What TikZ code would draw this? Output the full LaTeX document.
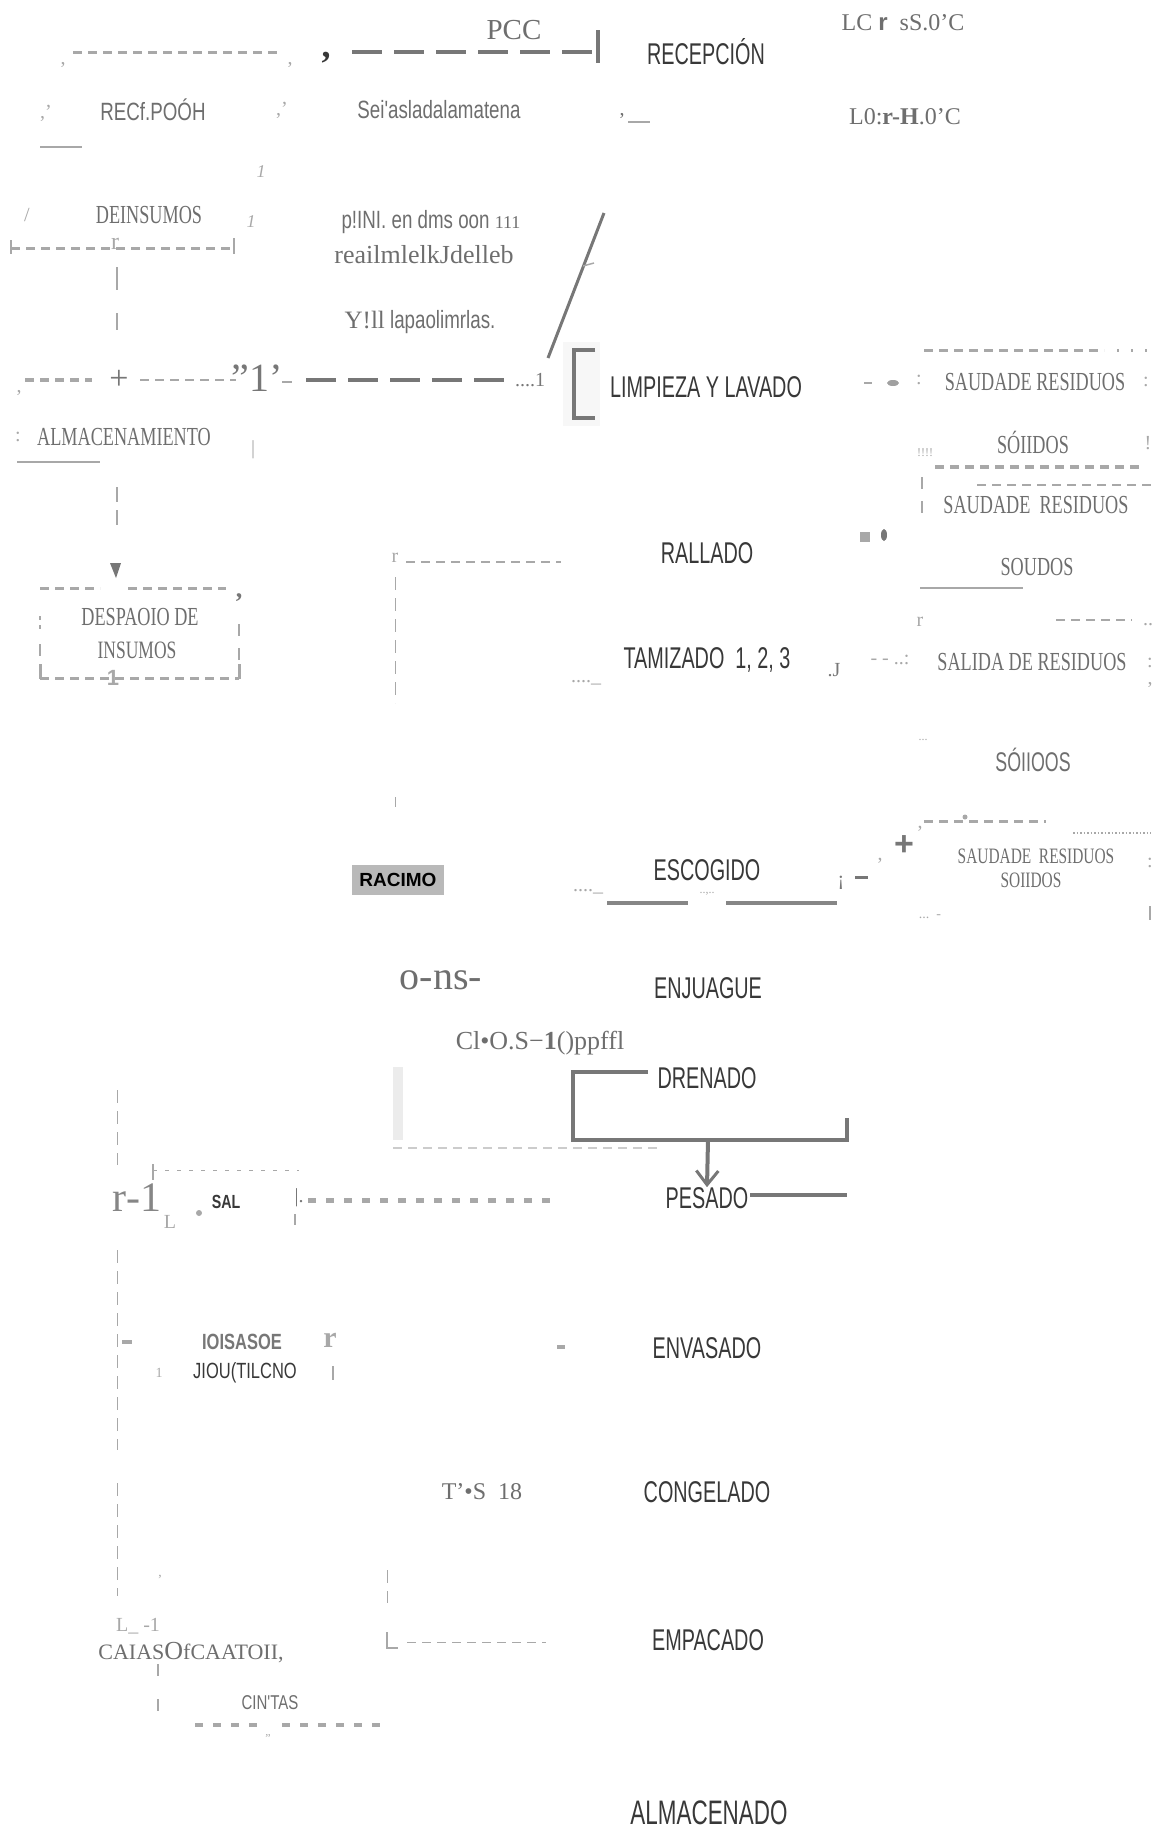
\documentclass[tikz,border=0pt]{standalone}
\usepackage{fontspec}
\setmainfont{Liberation Serif}
\setsansfont{Liberation Sans}
\newfontfamily\stepfont[FakeStretch=0.66]{Liberation Sans}
\newfontfamily\narrowsans[FakeStretch=0.75]{Liberation Sans}
\newfontfamily\narrowserif[FakeStretch=0.7]{Liberation Serif}
\usetikzlibrary{arrows.meta}

\definecolor{stepgray}{HTML}{383838}
\definecolor{notegray}{HTML}{6E6E6E}
\definecolor{linegray}{HTML}{A8A8A8}
\definecolor{darkline}{HTML}{777777}

\tikzset{
  stepnode/.style={inner sep=0pt, text=stepgray, font=\stepfont\fontsize{30}{30}\selectfont},
  capnote/.style={inner sep=0pt, text=notegray, font=\narrowserif\fontsize{26}{26}\selectfont},
  sidenote/.style={inner sep=0pt, text=notegray, font=\narrowsans\fontsize{25}{25}\selectfont},
  serifnote/.style={inner sep=0pt, text=notegray, font=\fontsize{26}{26}\selectfont},
  frag/.style={inner sep=0pt, text=linegray, font=\fontsize{20}{20}\selectfont},
  dashline/.style={draw=linegray, line width=3pt, dash pattern=on 9pt off 6pt},
  squaredash/.style={draw=linegray, line width=5pt, dash pattern=on 8pt off 10pt},
  longdash/.style={draw=darkline, line width=4pt, dash pattern=on 30pt off 12pt},
  tickline/.style={draw=linegray, line width=0.8pt, dash pattern=on 13pt off 8pt},
  thinline/.style={draw=linegray, line width=1.5pt},
  flowline/.style={draw=darkline, line width=4pt},
}

\begin{document}
\begin{tikzpicture}[x=1pt, y=-1pt]
  \useasboundingbox (0,0) rectangle (1152,1832);

  % process steps
  \node[stepnode] (rec) at (706,52) {RECEPCIÓN};
  \node[stepnode] (lim) at (706,387) {LIMPIEZA Y LAVADO};
  \node[stepnode] (ral) at (707,553) {RALLADO};
  \node[stepnode] (tam) at (707,660) {TAMIZADO\ \ 1, 2, 3};
  \node[stepnode] (esc) at (707,870) {ESCOGIDO};
  \node[stepnode] (enj) at (708,988) {ENJUAGUE};
  \node[stepnode] (dre) at (707,1078) {DRENADO};
  \node[stepnode] (pes) at (707,1198) {PESADO};
  \node[stepnode] (env) at (707,1348) {ENVASADO};
  \node[stepnode] (con) at (707,1492) {CONGELADO};
  \node[stepnode] (emp) at (708,1640) {EMPACADO};
  \node[stepnode, font=\stepfont\fontsize{34}{34}\selectfont] (alm) at (709,1813) {ALMACENADO};

  % top left
  \node[serifnote, font=\fontsize{29}{29}\selectfont] (pcc) at (514,30) {PCC};
  \draw[dashline] (73,52) -- (280,52);
  \node[frag] (c1) at (63,65) {,};
  \node[frag] (c2) at (290,65) {,};
  \node[text=stepgray, inner sep=0pt, font=\bfseries\fontsize{36}{36}\selectfont] (c3) at (326,58) {,};
  \draw[longdash] (352,52) -- (592,52);
  \draw[flowline] (598,30) -- (598,63);
  \node[sidenote] (recf) at (153,110) {RECf.POÓH};
  \node[frag] (c4) at (46,113) {,'};
  \node[frag] (c5) at (282,110) {,'};
  \node[sidenote] (sei) at (439,110) {Sei'asladalamatena};
  \draw[thinline] (40,147) -- (82,147);
  \node[frag, font=\itshape\fontsize{18}{18}\selectfont] (i1) at (261,172) {1};
  \node[frag, font=\itshape\fontsize{18}{18}\selectfont] (i2) at (251,222) {1};
  \node[frag] (sl) at (27,215) {/};
  \node[capnote] (deins) at (149,215) {DEINSUMOS};
  \draw[dashline] (11,248) -- (234,248);
  \draw[thinline] (11,240) -- (11,254) (234,238) -- (234,254);
  \node[frag, font=\fontsize{24}{24}\selectfont] (r1) at (115,244) {r};
  \node[sidenote] (pini) at (431,222) {p!INI.\ en dms oon {\rmfamily\fontsize{18}{18}\selectfont 111}};
  \node[serifnote] (reai) at (424,255) {reailmlelkJdelleb};
  \node[sidenote] (yll) at (420,322) {{\rmfamily Y!ll} lapaolimrlas.};

  % right of recepcion
  \node[serifnote, font=\fontsize{24}{24}\selectfont] (lc) at (903,23) {LC {\sffamily\bfseries r}\ \ sS.0'C};
  \node[serifnote, font=\fontsize{24}{24}\selectfont] (lo) at (905,117) {L0:{\bfseries r-H}.0'C};
  \node[frag, text=notegray] (c6) at (622,116) {,};
  \draw[thinline] (628,122) -- (650,122);

  % slash and row to limpieza
  \draw[draw=darkline, line width=3pt] (548,358) -- (604,213);
  \draw[thinline] (583,266) -- (594,263);
  \node[frag] (c7) at (19,393) {,};
  \draw[dashline, line width=4pt] (25,380) -- (92,380);
  \node[text=darkline, inner sep=0pt, font=\fontsize{34}{34}\selectfont] (pl) at (119,380) {+};
  \draw[dashline, line width=2pt] (140,380) -- (236,380);
  \node[text=darkline, inner sep=0pt, font=\fontsize{40}{40}\selectfont] (q1) at (257,378) {"1'};
  \draw[thinline, line width=2pt] (282,382) -- (292,382);
  \draw[longdash] (306,380) -- (510,380);
  \node[frag, text=darkline] (q2) at (530,380) {....1};
  \fill[gray!6] (563,342) rectangle (600,426);
  \draw[flowline] (595,350) -- (574,350) -- (574,418) -- (595,418);

  % almacenamiento and despacho
  \node[capnote] (almi) at (124,437) {ALMACENAMIENTO};
  \node[frag] (c8) at (18,437) {:};
  \draw[thinline] (17,462) -- (100,462);
  \node[frag] (c9) at (253,450) {|};
  \coordinate (ticktop) at (117,267);
  \coordinate (tickmid) at (117,487);
  \draw[thinline, line width=1.2pt] (ticktop) -- ++(0,23) ++(0,23) -- ++(0,17);
  \draw[thinline, line width=1.2pt] (tickmid) -- ++(0,15) ++(0,8) -- ++(0,15);
  \fill[darkline] (110,563) -- (121,563) -- (116,578) -- cycle;
  \draw[dashline] (40,588) -- (100,588) (128,588) -- (226,588);
  \node[capnote] (desp1) at (140,617) {DESPAOIO DE};
  \node[capnote, font=\narrowserif\fontsize{25}{25}\selectfont] (desp2) at (137,650) {INSUMOS};
  \draw[dashline] (40,678) -- (239,678);
  \draw[thinline, line width=3pt] (40,664) -- (40,679) (239,664) -- (239,679);
  \node[text=linegray, inner sep=0pt, font=\sffamily\bfseries\fontsize{22}{22}\selectfont] (one) at (113,678) {1};
  \draw[thinline] (40,616) -- (40,620) (40,625) -- (40,629) (40,644) -- (40,656);
  \draw[thinline] (239,624) -- (239,636) (239,648) -- (239,660);
  \node[text=darkline, inner sep=0pt, font=\bfseries\fontsize{26}{26}\selectfont] (c10) at (239,598) {,};

  % bracket left of rallado
  \node[frag] (r2) at (395,558) {r};
  \draw[dashline, line width=2pt] (406,562) -- (561,562);
  \draw[tickline] (395,577) -- (395,703) (395,797) -- (395,807);
  \node[frag] (d1) at (586,683) {....\_};

  % solid waste outputs
  \draw[thinline, line width=2pt] (864,383) -- (872,383);
  \fill[darkline!70] (893,383) ellipse (6 and 3);
  \draw[dashline] (924,350) -- (1104,350);
  \draw[dashline, dash pattern=on 2pt off 12pt] (1117,350) -- (1150,350);
  \node[frag] (c11) at (919,380) {:};
  \node[capnote] (sal1) at (1035,382) {SAUDADE RESIDUOS};
  \node[frag] (c12) at (1146,382) {:};
  \node[capnote] (sol1) at (1033,442) {SÓIIDOS};
  \node[frag, font=\fontsize{12}{12}\selectfont] (c13) at (925,453) {!!!!};
  \node[frag] (c14) at (1148,443) {!};
  \draw[dashline, line width=4pt] (935,467) -- (1142,467);
  \draw[dashline, line width=2pt] (977,485) -- (1151,485);
  \draw[thinline] (922,477) -- (922,489) (922,501) -- (922,513);
  \node[capnote] (sal2) at (1036,505) {SAUDADE\ \ RESIDUOS};
  \fill[linegray] (860,532) rectangle (870,542);
  \fill[darkline] (884,535) ellipse (3 and 6);
  \node[capnote] (sol2) at (1037,567) {SOUDOS};
  \draw[thinline, line width=2pt] (920,588) -- (1023,588);
  \node[frag] (r3) at (920,622) {r};
  \draw[dashline, line width=2pt] (1056,620) -- (1132,620);
  \node[frag] (c15) at (1148,625) {..};
  \node[frag, text=darkline] (c16) at (834,670) {.J};
  \node[frag] (c17) at (890,660) {-\ - ..:};
  \node[capnote] (sal3) at (1032,662) {SALIDA DE RESIDUOS};
  \node[frag] (c18) at (1150,663) {:};
  \node[frag] (c19) at (1150,685) {,};
  \node[frag, font=\fontsize{12}{12}\selectfont] (c20) at (923,740) {...};
  \node[stepnode, text=notegray, font=\stepfont\fontsize{27}{27}\selectfont] (sol3) at (1033,760) {SÓIIOOS};
  \draw[dashline] (924,821) -- (1046,821);
  \fill[linegray] (965,817) circle (2.5);
  \draw[draw=linegray, line width=1.5pt, dotted] (1073,833) -- (1151,833);
  \node[text=darkline, inner sep=0pt, font=\sffamily\bfseries\fontsize{34}{34}\selectfont] (pl2) at (904,846) {+};
  \node[frag] (c21) at (920,833) {'};
  \node[capnote, font=\narrowserif\fontsize{22}{22}\selectfont] (sal4) at (1036,856) {SAUDADE\ \ RESIDUOS};
  \node[capnote, font=\narrowserif\fontsize{22}{22}\selectfont] (sol4) at (1031,880) {SOIIDOS};
  \node[frag] (c22) at (1150,863) {:};
  \draw[thinline] (1150,906) -- (1150,920);
  \node[frag, font=\fontsize{14}{14}\selectfont] (c23) at (930,917) {...\ \ -};

  % escogido
  \node[stepnode, fill=gray!55, text=black, minimum width=92pt, minimum height=30pt,
        font=\sffamily\bfseries\fontsize{19}{19}\selectfont] (rac) at (398,880) {RACIMO};
  \node[frag] (d2) at (588,892) {....\_};
  \draw[flowline, draw=linegray!80!black] (607,903) -- (688,903) (726,903) -- (837,903);
  \node[frag, font=\fontsize{12}{12}\selectfont] (c24) at (707,894) {..,..};
  \node[frag, text=darkline] (c25) at (841,883) {¡};
  \draw[draw=darkline, line width=3pt] (855,877) -- (868,877);
  \node[frag] (c26) at (880,865) {'};

  % enjuague and drenado
  \node[serifnote, font=\fontsize{40}{40}\selectfont] (ons) at (441,980) {o-ns-};
  \node[serifnote] (clo) at (540,1043) {Cl•O.S−{\bfseries 1}()ppffl};
  \draw[draw=gray!15, line width=10pt] (398,1067) -- (398,1140);
  \draw[dashline, draw=gray!40, line width=2pt] (393,1148) -- (657,1148);
  \draw[flowline] (648,1072) -- (573,1072) -- (573,1140) -- (847,1140) -- (847,1118);
  \coordinate (dreout) at (708,1140);
  \draw[flowline, -{Straight Barb[length=14pt, width=22pt, line width=3pt]}] (dreout) -- (pes.north);
  \draw[flowline] (pes.east) ++(2,-3) -- (847,1195);

  % sal
  \draw[tickline] (117,1090) -- (117,1165) (117,1250) -- (117,1450) (117,1483) -- (117,1596);
  \node[serifnote, text=linegray!80!black, font=\fontsize{42}{42}\selectfont] (r4) at (137,1198) {r-1};
  \node[frag] (c27) at (170,1222) {L};
  \draw[tickline, dash pattern=on 4pt off 8pt] (153,1170) -- (299,1170);
  \draw[thinline] (153,1164) -- (153,1180);
  \fill[linegray] (199,1213) circle (3);
  \node[sidenote, text=stepgray, font=\narrowsans\bfseries\fontsize{19}{19}\selectfont] (sal) at (226,1202) {SAL};
  \node[frag, text=darkline] (c28) at (299,1198) {|.};
  \draw[thinline] (295,1214) -- (295,1225);
  \draw[squaredash] (308,1200) -- (552,1200);

  % bolsas de polietileno
  \fill[linegray] (122,1340) rectangle (132,1344);
  \node[sidenote, text=darkline, font=\narrowsans\bfseries\fontsize{22}{22}\selectfont] (ioi) at (242,1342) {IOISASOE};
  \node[text=linegray, inner sep=0pt, font=\bfseries\fontsize{30}{30}\selectfont] (r5) at (330,1340) {r};
  \node[sidenote, text=stepgray, font=\narrowsans\fontsize{22}{22}\selectfont] (jio) at (245,1373) {JIOU(TILCNO};
  \node[frag, font=\fontsize{14}{14}\selectfont] (c29) at (159,1373) {1};
  \draw[thinline] (333,1366) -- (333,1380);
  \fill[linegray] (557,1345) rectangle (565,1349);
  \node[serifnote, font=\fontsize{24}{24}\selectfont] (ts) at (482,1492) {T'•S\ \ 18};

  % cajas de carton
  \draw[tickline] (387,1570) -- (387,1603);
  \draw[thinline] (387,1632) -- (387,1648) -- (398,1648);
  \draw[tickline, dash pattern=on 9pt off 6pt] (407,1642) -- (546,1642);
  \node[frag, font=\fontsize{14}{14}\selectfont] (c30) at (160,1580) {'};
  \node[frag] (c31) at (138,1626) {L\_\ -1};
  \node[serifnote, font=\fontsize{22}{22}\selectfont] (caj) at (191,1653) {CAIAS{\fontsize{26}{26}\selectfont O}fCAATOII,};
  \draw[thinline] (158,1664) -- (158,1676) (158,1699) -- (158,1711);
  \node[sidenote, font=\narrowsans\fontsize{20}{20}\selectfont] (cin) at (270,1703) {CIN'TAS};
  \draw[squaredash, line width=4pt] (195,1725) -- (258,1725) (282,1725) -- (383,1725);
  \node[frag, font=\fontsize{12}{12}\selectfont] (c32) at (268,1738) {''};
\end{tikzpicture}
\end{document}
